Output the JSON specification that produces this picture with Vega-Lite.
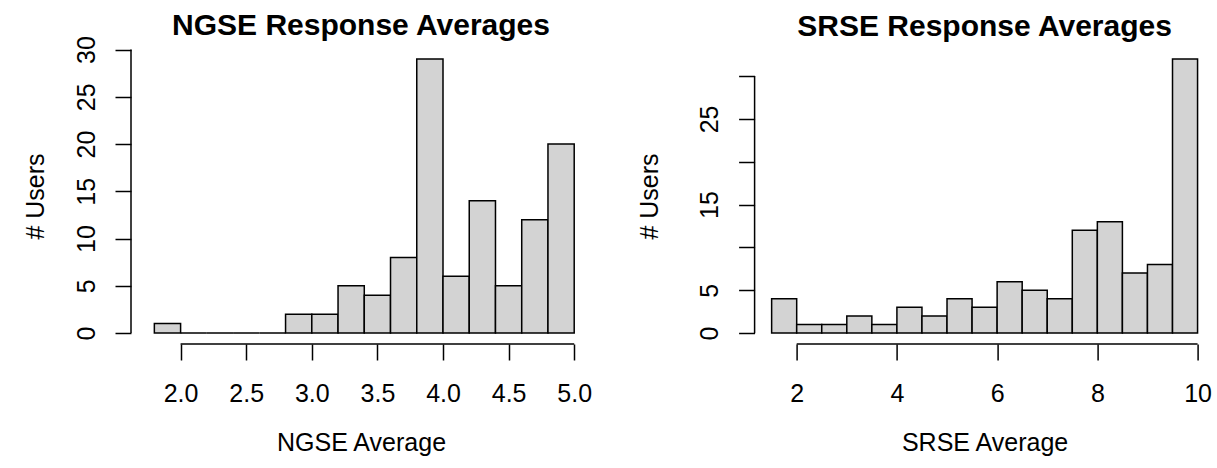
{
  "$schema": "https://vega.github.io/schema/vega-lite/v6.json",
  "padding": {"left": 23, "top": 11, "right": 2, "bottom": 2},
  "background": "white",
  "config": {
    "font": "Liberation Sans",
    "view": {"stroke": null},
    "axis": {"grid": false, "domain": false, "tickColor": "black", "tickWidth": 1.5, "tickSize": 16, "labelColor": "black", "labelFontSize": 25, "labelPadding": 21, "titleColor": "black", "titleFontSize": 25, "titleFontWeight": "normal", "labelFlush": false, "labelOverlap": false, "labelBound": false},
    "axisY": {"labelAngle": -90, "labelAlign": "center", "labelBaseline": "alphabetic", "titlePadding": 26},
    "axisX": {"titlePadding": 24},
    "title": {"fontSize": 30, "fontWeight": "bold", "color": "black", "baseline": "alphabetic", "anchor": "middle", "frame": "group"}
  },
  "datasets": {
    "ngse": [
      {"lo": 1.8, "hi": 2.0, "count": 1},
      {"lo": 2.0, "hi": 2.2, "count": 0},
      {"lo": 2.2, "hi": 2.4, "count": 0},
      {"lo": 2.4, "hi": 2.6, "count": 0},
      {"lo": 2.6, "hi": 2.8, "count": 0},
      {"lo": 2.8, "hi": 3.0, "count": 2},
      {"lo": 3.0, "hi": 3.2, "count": 2},
      {"lo": 3.2, "hi": 3.4, "count": 5},
      {"lo": 3.4, "hi": 3.6, "count": 4},
      {"lo": 3.6, "hi": 3.8, "count": 8},
      {"lo": 3.8, "hi": 4.0, "count": 29},
      {"lo": 4.0, "hi": 4.2, "count": 6},
      {"lo": 4.2, "hi": 4.4, "count": 14},
      {"lo": 4.4, "hi": 4.6, "count": 5},
      {"lo": 4.6, "hi": 4.8, "count": 12},
      {"lo": 4.8, "hi": 5.0, "count": 20}
    ],
    "srse": [
      {"lo": 1.5, "hi": 2.0, "count": 4},
      {"lo": 2.0, "hi": 2.5, "count": 1},
      {"lo": 2.5, "hi": 3.0, "count": 1},
      {"lo": 3.0, "hi": 3.5, "count": 2},
      {"lo": 3.5, "hi": 4.0, "count": 1},
      {"lo": 4.0, "hi": 4.5, "count": 3},
      {"lo": 4.5, "hi": 5.0, "count": 2},
      {"lo": 5.0, "hi": 5.5, "count": 4},
      {"lo": 5.5, "hi": 6.0, "count": 3},
      {"lo": 6.0, "hi": 6.5, "count": 6},
      {"lo": 6.5, "hi": 7.0, "count": 5},
      {"lo": 7.0, "hi": 7.5, "count": 4},
      {"lo": 7.5, "hi": 8.0, "count": 12},
      {"lo": 8.0, "hi": 8.5, "count": 13},
      {"lo": 8.5, "hi": 9.0, "count": 7},
      {"lo": 9.0, "hi": 9.5, "count": 8},
      {"lo": 9.5, "hi": 10.0, "count": 32}
    ]
  },
  "bounds": "flush",
  "spacing": 163.6,
  "hconcat": [
    {
      "width": 460,
      "height": 296,
      "title": {"text": "NGSE Response Averages", "offset": -5.7},
      "layer": [
        {
          "data": {"name": "ngse"},
          "mark": {"type": "rect", "fill": "#d3d3d3", "stroke": "black", "strokeWidth": 1.5},
          "encoding": {
            "x": {"field": "lo", "type": "quantitative", "title": "NGSE Average", "scale": {"domain": [1.622, 5.128], "nice": false, "zero": false}, "axis": {"values": [2.0, 2.5, 3.0, 3.5, 4.0, 4.5, 5.0], "format": ".1f"}},
            "x2": {"field": "hi"},
            "y": {"field": "count", "type": "quantitative", "title": "# Users", "scale": {"domain": [-1.16, 30.16], "nice": false, "zero": false}, "axis": {"values": [0, 5, 10, 15, 20, 25, 30]}},
            "y2": {"datum": 0}
          }
        },
        {
          "data": {"values": [{}]},
          "mark": {"type": "rule", "stroke": "black", "strokeWidth": 1.5},
          "encoding": {
            "x": {"datum": 2.0, "type": "quantitative", "title": "NGSE Average"},
            "x2": {"datum": 5.0},
            "y": {"datum": -1.16, "type": "quantitative", "title": "# Users"}
          }
        },
        {
          "data": {"values": [{}]},
          "mark": {"type": "rule", "stroke": "black", "strokeWidth": 1.5},
          "encoding": {
            "x": {"datum": 1.622, "type": "quantitative", "title": "NGSE Average"},
            "y": {"datum": 0, "type": "quantitative", "title": "# Users"},
            "y2": {"datum": 30}
          }
        }
      ]
    },
    {
      "width": 460,
      "height": 296,
      "title": {"text": "SRSE Response Averages", "offset": 6.5},
      "layer": [
        {
          "data": {"name": "srse"},
          "mark": {"type": "rect", "fill": "#d3d3d3", "stroke": "black", "strokeWidth": 1.5},
          "encoding": {
            "x": {"field": "lo", "type": "quantitative", "title": "SRSE Average", "scale": {"domain": [1.16, 10.34], "nice": false, "zero": false}, "axis": {"values": [2, 4, 6, 8, 10]}},
            "x2": {"field": "hi"},
            "y": {"field": "count", "type": "quantitative", "title": "# Users", "scale": {"domain": [-1.28, 33.28], "nice": false, "zero": false}, "axis": {"values": [0, 5, 10, 15, 20, 25, 30], "titlePadding": 35, "labelExpr": "datum.value % 10 == 0 && datum.value > 0 ? '' : datum.label"}},
            "y2": {"datum": 0}
          }
        },
        {
          "data": {"values": [{}]},
          "mark": {"type": "rule", "stroke": "black", "strokeWidth": 1.5},
          "encoding": {
            "x": {"datum": 2, "type": "quantitative", "title": "SRSE Average"},
            "x2": {"datum": 10},
            "y": {"datum": -1.28, "type": "quantitative", "title": "# Users"}
          }
        },
        {
          "data": {"values": [{}]},
          "mark": {"type": "rule", "stroke": "black", "strokeWidth": 1.5},
          "encoding": {
            "x": {"datum": 1.16, "type": "quantitative", "title": "SRSE Average"},
            "y": {"datum": 0, "type": "quantitative", "title": "# Users"},
            "y2": {"datum": 30}
          }
        }
      ]
    }
  ]
}
